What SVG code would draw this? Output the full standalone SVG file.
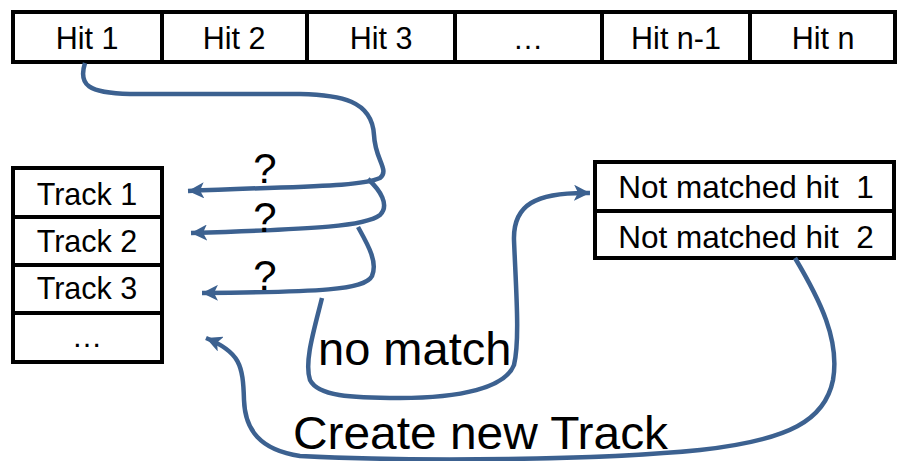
<svg xmlns="http://www.w3.org/2000/svg" width="898" height="461" viewBox="0 0 898 461">
  <defs>
    <style>
      .box { fill: #ffffff; stroke: #000000; stroke-width: 4; }
      .sep { stroke: #000000; stroke-width: 4; }
      .lbl { font-family: "Liberation Sans", Arial, sans-serif; font-size: 30.5px; fill: #000000; text-anchor: middle; }
      .wide { font-size: 31.5px; }
      .big { font-family: "Liberation Sans", Arial, sans-serif; font-size: 47px; fill: #000000; }
      .q { font-family: "Liberation Sans", Arial, sans-serif; font-size: 42px; fill: #000000; text-anchor: middle; }
      .link { fill: none; stroke: #3C6190; stroke-width: 4.5; stroke-linecap: butt; }
    </style>
    <marker id="head" markerUnits="userSpaceOnUse" markerWidth="18" markerHeight="16" refX="16" refY="8" orient="auto">
      <path d="M0,0 L16,8 L0,16 L4,8 Z" fill="#3C6190"/>
    </marker>
  </defs>

  <!-- hit array -->
  <g id="hits">
    <rect class="box" x="13" y="12" width="882" height="50"/>
    <line class="sep" x1="162" y1="12" x2="162" y2="62"/>
    <line class="sep" x1="307" y1="12" x2="307" y2="62"/>
    <line class="sep" x1="455" y1="12" x2="455" y2="62"/>
    <line class="sep" x1="602" y1="12" x2="602" y2="62"/>
    <line class="sep" x1="750" y1="12" x2="750" y2="62"/>
  </g>
  <g id="hit1"><text class="lbl" x="87" y="49">Hit 1</text></g>
  <g id="hit2"><text class="lbl" x="234" y="49">Hit 2</text></g>
  <g id="hit3"><text class="lbl" x="381" y="49">Hit 3</text></g>
  <g id="hitdots"><text class="lbl" x="528" y="49">…</text></g>
  <g id="hitn1"><text class="lbl" x="676" y="49">Hit n-1</text></g>
  <g id="hitn"><text class="lbl" x="823" y="49">Hit n</text></g>

  <!-- track list -->
  <g id="tracks">
    <rect class="box" x="13" y="168" width="149" height="194"/>
    <line class="sep" x1="13" y1="217" x2="162" y2="217"/>
    <line class="sep" x1="13" y1="265" x2="162" y2="265"/>
    <line class="sep" x1="13" y1="313" x2="162" y2="313"/>
  </g>
  <g id="track1"><text class="lbl" x="87" y="205">Track 1</text></g>
  <g id="track2"><text class="lbl" x="87" y="252">Track 2</text></g>
  <g id="track3"><text class="lbl" x="87" y="299">Track 3</text></g>
  <g id="trackdots"><text class="lbl" x="87" y="347">…</text></g>

  <!-- unmatched hits -->
  <g id="unmatched">
    <rect class="box" x="595" y="162" width="299" height="96"/>
    <line class="sep" x1="595" y1="211" x2="894" y2="211"/>
  </g>
  <g id="unmatched1"><text class="lbl wide" x="746" y="198" xml:space="preserve">Not matched hit  1</text></g>
  <g id="unmatched2"><text class="lbl wide" x="746" y="248" xml:space="preserve">Not matched hit  2</text></g>

  <!-- connectors -->
  <g id="connectors">
    <path class="link" marker-end="url(#head)" d="M85,63 C78,85 88,93 130,94 L300,94 C340,95 372,100 374,135 C375,160 390,170 380,178 C360,187 300,186 188,191"/>
    <path class="link" marker-end="url(#head)" d="M368,179 C380,190 390,205 380,215 C366,226 320,229 191,233"/>
    <path class="link" marker-end="url(#head)" d="M358,227 C368,245 378,262 372,276 C365,290 320,292 202,293"/>
    <path class="link" marker-end="url(#head)" d="M322,298 C314,330 304,362 310,380 C318,396 350,398 400,398 C460,398 505,388 514,365 C520,340 516,290 514,240 C513,205 535,192 590,193"/>
    <path class="link" marker-end="url(#head)" d="M795,258 C820,300 840,340 833,380 C825,420 790,440 700,450 C600,460 420,462 300,456 C260,450 245,430 244,400 C243,365 240,352 206,338"/>
  </g>

  <!-- labels -->
  <g id="labels">
    <text class="q" x="265" y="183">?</text>
    <text class="q" x="265" y="232">?</text>
    <text class="q" x="265" y="290">?</text>
    <text class="big" x="318" y="365">no match</text>
    <text class="big" x="293" y="449" textLength="375" lengthAdjust="spacingAndGlyphs">Create new Track</text>
  </g>
</svg>
